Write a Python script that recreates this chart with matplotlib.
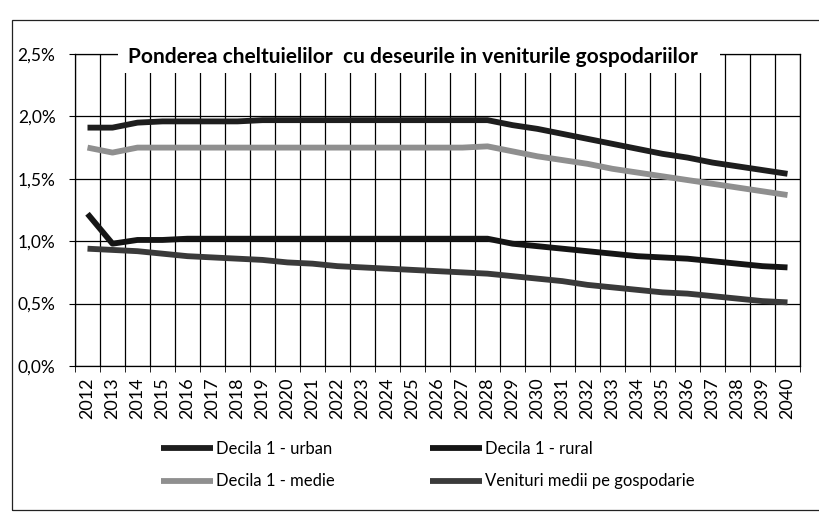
import matplotlib
matplotlib.use("Agg")
import matplotlib.pyplot as plt
from matplotlib.patches import Rectangle
from matplotlib.ticker import FuncFormatter, MultipleLocator

years = list(range(2012, 2041))
urban = [1.91, 1.91, 1.95, 1.96, 1.96, 1.96, 1.96, 1.97, 1.97, 1.97, 1.97, 1.97, 1.97, 1.97, 1.97,
         1.97, 1.97, 1.93, 1.90, 1.86, 1.82, 1.78, 1.74, 1.70, 1.67, 1.63, 1.60, 1.57, 1.54]
medie = [1.75, 1.71, 1.75, 1.75, 1.75, 1.75, 1.75, 1.75, 1.75, 1.75, 1.75, 1.75, 1.75, 1.75, 1.75,
         1.75, 1.76, 1.72, 1.68, 1.65, 1.62, 1.58, 1.55, 1.52, 1.49, 1.46, 1.43, 1.40, 1.37]
rural = [1.22, 0.98, 1.01, 1.01, 1.02, 1.02, 1.02, 1.02, 1.02, 1.02, 1.02, 1.02, 1.02, 1.02, 1.02,
         1.02, 1.02, 0.98, 0.96, 0.94, 0.92, 0.90, 0.88, 0.87, 0.86, 0.84, 0.82, 0.80, 0.79]
venituri = [0.94, 0.93, 0.92, 0.90, 0.88, 0.87, 0.86, 0.85, 0.83, 0.82, 0.80, 0.79, 0.78, 0.77, 0.76,
            0.75, 0.74, 0.72, 0.70, 0.68, 0.65, 0.63, 0.61, 0.59, 0.58, 0.56, 0.54, 0.52, 0.51]

title = "Ponderea cheltuielilor  cu deseurile in veniturile gospodariilor"

W, H = 819, 516
fig = plt.figure(figsize=(W / 100, H / 100), dpi=100)
plt.rcParams["font.family"] = ["Lato", "DejaVu Sans"]

# outer chart frame (right edge falls outside the picture)
fig.patches.append(Rectangle((12 / W, 1 - 510 / H), 830 / W, 490 / H, transform=fig.transFigure,
                             fill=False, edgecolor="#222222", linewidth=0.9, zorder=0))

ax = fig.add_axes([75 / W, 1 - 366 / H, 725 / W, 312 / H])
l_urban, = ax.plot(years, urban, color="#1e1e1e", lw=4.2, solid_capstyle="butt", zorder=3)
l_rural, = ax.plot(years, rural, color="#151515", lw=4.2, solid_capstyle="butt", zorder=3)
l_medie, = ax.plot(years, medie, color="#8f8f8f", lw=4.2, solid_capstyle="butt", zorder=3)
l_ven, = ax.plot(years, venituri, color="#3a3a3a", lw=4.2, solid_capstyle="butt", zorder=3)

ax.set_xlim(2011.5, 2040.5)
ax.set_ylim(0, 2.5)
ax.yaxis.set_major_locator(MultipleLocator(0.5))
ax.yaxis.set_major_formatter(FuncFormatter(lambda v, p: f"{v:.1f}%".replace(".", ",")))
ax.set_xticks(years)
ax.set_xticklabels([str(y) for y in years], rotation=90, fontsize=13)
ax.set_xticks([y + 0.5 for y in [2011] + years], minor=True)
ax.tick_params(axis="x", which="major", length=0, pad=8)
ax.tick_params(axis="x", which="minor", length=4, color="black")
ax.tick_params(axis="y", length=4, labelsize=12.5, pad=10)
ax.grid(axis="x", which="minor", color="black", lw=0.9)
ax.grid(axis="y", which="major", color="black", lw=0.9)
for s in ax.spines.values():
    s.set_color("black")
    s.set_linewidth(0.9)

# white box behind the title hides the grid, as in the original
fig.patches.append(Rectangle((118 / W, 1 - 73 / H), 602 / W, 33 / H, transform=fig.transFigure,
                             facecolor="white", edgecolor="none", zorder=2))
fig.text(413 / W, 1 - 57 / H, title, ha="center", va="center", fontsize=15,
         fontweight="bold", zorder=3)

fig.legend([l_urban, l_medie, l_rural, l_ven],
           ["Decila 1 - urban", "Decila 1 - medie", "Decila 1 - rural", "Venituri medii pe gospodarie"],
           ncol=2, loc="center", bbox_to_anchor=(428 / W, 1 - 465 / H), frameon=False,
           fontsize=12, handlelength=3.1, handletextpad=0.2, columnspacing=5.7, labelspacing=1.0)

fig.savefig("out.png", dpi=100)
